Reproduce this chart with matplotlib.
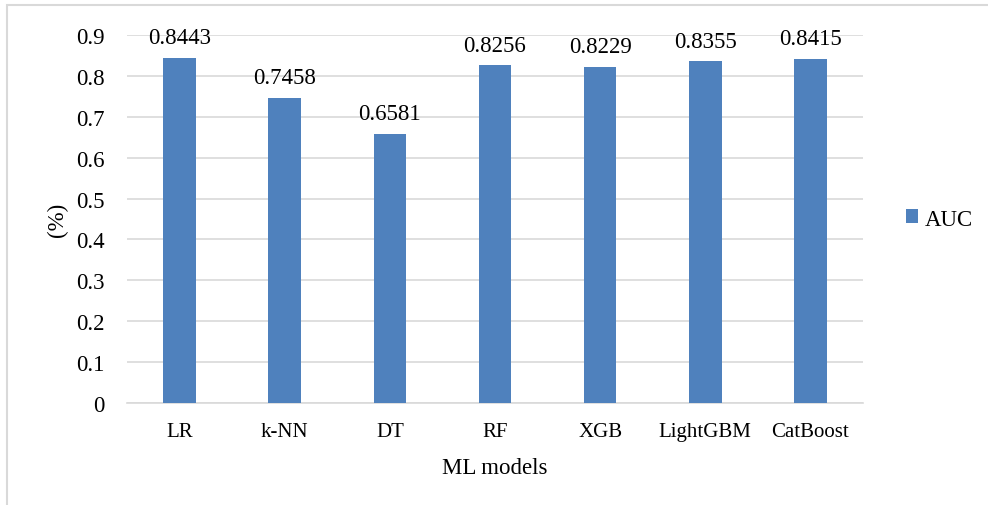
import matplotlib.pyplot as plt
from matplotlib.patches import Rectangle

models = ['LR', 'k-NN', 'DT', 'RF', 'XGB', 'LightGBM', 'CatBoost']
auc = [0.8443, 0.7458, 0.6581, 0.8256, 0.8229, 0.8355, 0.8415]
yticks = [0, 0.1, 0.2, 0.3, 0.4, 0.5, 0.6, 0.7, 0.8, 0.9]

BLUE = '#4F81BD'
GRID = '#D9D9D9'

plt.rcParams['font.family'] = ['Liberation Serif', 'DejaVu Serif']
plt.rcParams['font.size'] = 16.5

W, H = 988, 506
fig = plt.figure(figsize=(W / 100, H / 100), dpi=100)

# chart frame (light grey border, cut off at right/bottom)
fig.patches.append(Rectangle((7 / W, -0.05), 1.2, (H - 6) / H + 0.05,
                             transform=fig.transFigure, fill=False,
                             edgecolor=GRID, linewidth=1.5))

ax = fig.add_axes([127 / W, (H - 404) / H, (863 - 127) / W, (404 - 36) / H])
x = range(len(models))
bars = ax.bar(x, auc, width=0.31, color=BLUE, label='AUC', zorder=3)

for xi, v in zip(x, auc):
    ax.annotate(f'{v:.4f}', (xi, v), xytext=(0, 7), textcoords='offset points',
                ha='center', va='bottom', fontsize=16.5)

ax.set_xlim(-0.5, len(models) - 0.5)
ax.set_ylim(0, 0.9)
ax.set_yticks(yticks)
ax.set_yticklabels(['0' if t == 0 else f'{t:.1f}' for t in yticks])
ax.set_xticks(list(x))
ax.set_xticklabels(models, fontsize=15)
ax.grid(axis='y', color=GRID, linewidth=1.2, zorder=0)
ax.tick_params(length=0)
ax.tick_params(axis='y', pad=16)
ax.tick_params(axis='x', pad=14)
for s in ['top', 'right', 'left']:
    ax.spines[s].set_visible(False)
ax.spines['bottom'].set_color(GRID)
ax.spines['bottom'].set_linewidth(1.2)

ax.set_xlabel('ML models', labelpad=11)
ax.set_ylabel('(%)', labelpad=6)

ax.legend(loc='center left', bbox_to_anchor=(1.03, 0.5), frameon=False,
          handlelength=0.55, handleheight=0.55, handletextpad=0.3)

fig.savefig('out.png', dpi=100)
